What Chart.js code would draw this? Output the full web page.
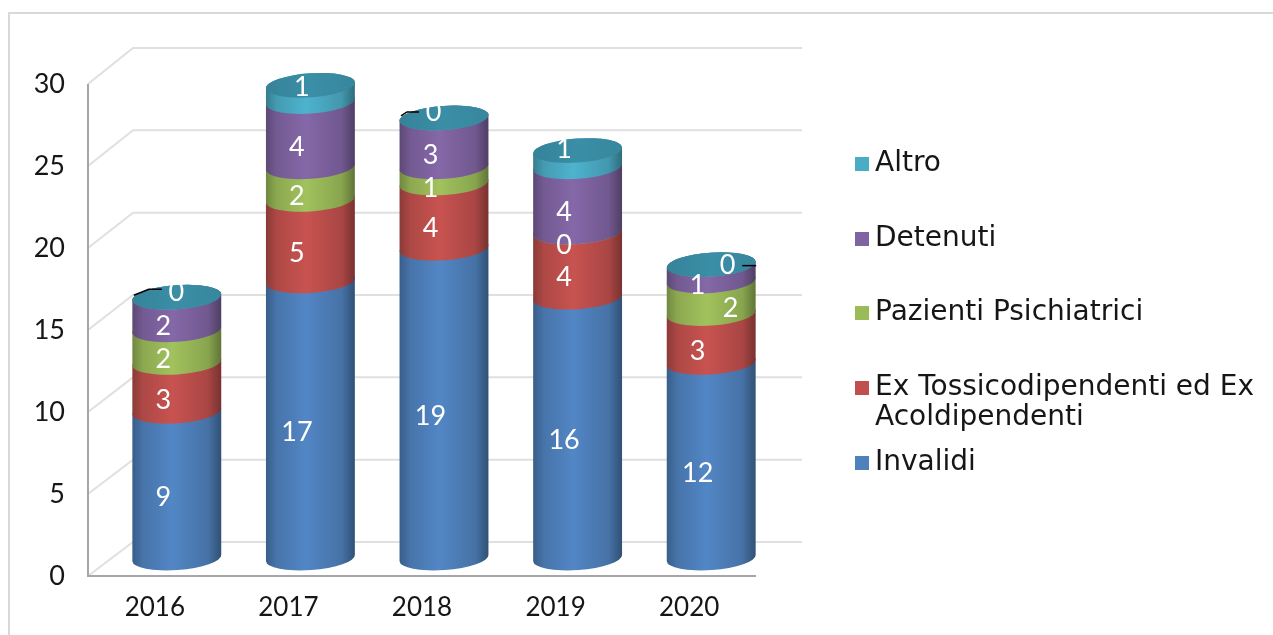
<!DOCTYPE html>
<html>
<head>
<meta charset="utf-8">
<title>Chart</title>
<script src="https://cdn.jsdelivr.net/npm/chart.js@4"></script>
<style>
  html, body { margin: 0; padding: 0; background: #ffffff; }
  canvas { display: block; }
</style>
</head>
<body>
<canvas id="chart" width="1273" height="635"></canvas>
<script>
// Chart data
const years = ["2016", "2017", "2018", "2019", "2020"];
const invalidi = [9, 17, 19, 16, 12];
const exTossico = [3, 5, 4, 4, 3];
const pazienti = [2, 2, 1, 0, 2];
const detenuti = [2, 4, 3, 4, 1];
const altro = [0, 1, 0, 1, 0];
const yTicks = [0, 5, 10, 15, 20, 25, 30];

const FONT = "Lato";
const LEGEND_FONT = "DejaVu Sans";
const TEXT_COLOR = "#161616";
const DEPTH_X = 22; // columns stand halfway into the 3D floor

const colInvalidi = "#4f81bd";
const colEx = "#c0504d";
const colPazienti = "#9bbb59";
const colDetenuti = "#8064a2";
const colAltro = "#4bacc6";
const capColor = "#3a8ea6";

// hand placed labels, [dataset, year, dx, dy] on top of the default position
const labelNudges = [
  [4, 0, 13, -18],
  [4, 1, 5, -19],
  [4, 2, 3, -19],
  [4, 3, 0, -22],
  [4, 4, 30, -12],
  [2, 4, 33, -2],
];

// leader lines of the zero labels, as [year, points relative to the column centre/top]
const leaders = [
  [0, [[-43, -2], [-28, -8], [-15, -8]]],
  [2, [[-43, -2], [-37, -6], [-25, -6]]],
  [4, [[31, 1], [45, 1]]],
];

function shade(hex, f) {
  const n = parseInt(hex.slice(1), 16);
  const c = [n >> 16, (n >> 8) & 255, n & 255].map((v) =>
    Math.min(255, Math.round(v * f))
  );
  return "rgb(" + c.join(",") + ")";
}

// 3D walls, floor and axis lines
const wallsPlugin = {
  id: "walls",
  beforeDatasetsDraw(chart) {
    const ctx = chart.ctx;
    const y = chart.scales.y;
    const area = chart.chartArea;
    ctx.save();
    ctx.lineWidth = 2;
    ctx.strokeStyle = "#e0e0e0";
    ctx.beginPath();
    yTicks.forEach((t) => {
      const py = y.getPixelForValue(t);
      const dy = 34 + (2 * t) / 30;
      ctx.moveTo(area.left, py);
      ctx.lineTo(area.left + 45, py - dy);
      ctx.lineTo(area.right + 46, py - dy);
    });
    ctx.stroke();
    ctx.strokeStyle = "#a6a6a6";
    ctx.beginPath();
    ctx.moveTo(area.left, area.top);
    ctx.lineTo(area.left, area.bottom);
    ctx.lineTo(area.right, area.bottom);
    ctx.stroke();
    ctx.restore();
  },
  // the flat bars stay in the chart, the cylinders below are drawn instead
  beforeDatasetDraw() {
    return false;
  },
};

function sideGradient(ctx, x, r, color) {
  const g = ctx.createLinearGradient(x - r, 0, x + r, 0);
  g.addColorStop(0, shade(color, 0.72));
  g.addColorStop(0.12, shade(color, 0.9));
  g.addColorStop(0.45, shade(color, 1.04));
  g.addColorStop(0.85, shade(color, 0.88));
  g.addColorStop(1, shade(color, 0.62));
  return g;
}

const cylinderPlugin = {
  id: "cylinders",
  afterDatasetsDraw(chart) {
    const ctx = chart.ctx;
    const tilt = -0.07;
    const ry = 12;
    ctx.save();
    years.forEach((year, i) => {
      chart.data.datasets.forEach((ds, d) => {
        const bar = chart.getDatasetMeta(d).data[i];
        const r = bar.width / 2;
        const x = bar.x + DEPTH_X;
        ctx.fillStyle = sideGradient(ctx, x, r, ds.backgroundColor);
        ctx.beginPath();
        ctx.ellipse(x, bar.base, r, ry, tilt, 0, Math.PI);
        ctx.ellipse(x, bar.y, r, ry, tilt, Math.PI, 2 * Math.PI);
        ctx.closePath();
        ctx.fill();
      });
      const last = chart.data.datasets.length - 1;
      const top = chart.getDatasetMeta(last).data[i];
      const g = ctx.createLinearGradient(top.x + DEPTH_X - top.width / 2, 0, top.x + DEPTH_X + top.width / 2, 0);
      g.addColorStop(0, shade(capColor, 0.92));
      g.addColorStop(0.5, capColor);
      g.addColorStop(1, shade(capColor, 0.95));
      ctx.fillStyle = g;
      ctx.beginPath();
      ctx.ellipse(top.x + DEPTH_X, top.y, top.width / 2, ry, tilt, 0, 2 * Math.PI);
      ctx.fill();
    });

    // data labels
    ctx.font = "27px " + FONT;
    ctx.fillStyle = "#ffffff";
    ctx.textAlign = "center";
    ctx.textBaseline = "middle";
    chart.data.datasets.forEach((ds, d) => {
      chart.getDatasetMeta(d).data.forEach((bar, i) => {
        let lx = bar.x + DEPTH_X - 13.5;
        let ly = (bar.y + bar.base) / 2 + 13;
        labelNudges.forEach((n) => {
          if (n[0] === d && n[1] === i) {
            lx += n[2];
            ly += n[3];
          }
        });
        ctx.fillText(String(ds.data[i]), lx, ly);
      });
    });

    // leader lines
    const topMeta = chart.getDatasetMeta(chart.data.datasets.length - 1).data;
    ctx.strokeStyle = "#000000";
    ctx.lineWidth = 1.5;
    leaders.forEach((l) => {
      const bar = topMeta[l[0]];
      ctx.beginPath();
      l[1].forEach((p, k) => {
        const px = bar.x + DEPTH_X + p[0];
        const py = bar.y + p[1];
        if (k === 0) ctx.moveTo(px, py);
        else ctx.lineTo(px, py);
      });
      ctx.stroke();
    });
    ctx.restore();
  },
};

// Legend on the right, top to bottom in reverse stack order
const legendRows = [
  { dataset: 4, lines: ["Altro"], y: 164 },
  { dataset: 3, lines: ["Detenuti"], y: 239 },
  { dataset: 2, lines: ["Pazienti Psichiatrici"], y: 313 },
  { dataset: 1, lines: ["Ex Tossicodipendenti ed Ex", "Acoldipendenti"], y: 388 },
  { dataset: 0, lines: ["Invalidi"], y: 463 },
];

const legendPlugin = {
  id: "sideLegend",
  afterDraw(chart) {
    const ctx = chart.ctx;
    ctx.save();
    ctx.font = "28px " + LEGEND_FONT;
    ctx.textAlign = "left";
    ctx.textBaseline = "middle";
    legendRows.forEach((row) => {
      ctx.fillStyle = chart.data.datasets[row.dataset].backgroundColor;
      ctx.fillRect(855, row.y - 7, 14, 14);
      ctx.fillStyle = TEXT_COLOR;
      row.lines.forEach((line, k) => {
        ctx.fillText(line, 875, row.y + k * 30);
      });
    });
    ctx.restore();
  },
};

// Chart frame: only the top and left edges are inside the picture
const framePlugin = {
  id: "frame",
  beforeDraw(chart) {
    const ctx = chart.ctx;
    ctx.save();
    ctx.fillStyle = "#ffffff";
    ctx.fillRect(0, 0, chart.width, chart.height);
    ctx.strokeStyle = "#d9d9d9";
    ctx.lineWidth = 2;
    ctx.beginPath();
    ctx.moveTo(9, chart.height);
    ctx.lineTo(9, 13);
    ctx.lineTo(chart.width, 13);
    ctx.stroke();
    ctx.restore();
  },
};

function renderChart() {
  new Chart("chart", {
    type: "bar",
    data: {
      labels: years,
      datasets: [
        { label: "Invalidi", data: invalidi, backgroundColor: colInvalidi, yAxisID: "depth" },
        { label: "Ex Tossicodipendenti ed Ex Acoldipendenti", data: exTossico, backgroundColor: colEx, yAxisID: "depth" },
        { label: "Pazienti Psichiatrici", data: pazienti, backgroundColor: colPazienti, yAxisID: "depth" },
        { label: "Detenuti", data: detenuti, backgroundColor: colDetenuti, yAxisID: "depth" },
        { label: "Altro", data: altro, backgroundColor: colAltro, yAxisID: "depth" },
      ],
    },
    options: {
      responsive: false,
      animation: false,
      categoryPercentage: 1,
      barPercentage: 0.667,
      layout: { padding: { top: 84, right: 517, left: 0, bottom: 0 } },
      plugins: { legend: { display: false }, tooltip: { enabled: false } },
      scales: {
        x: {
          stacked: true,
          grid: { display: false },
          border: { display: false },
          afterFit(scale) {
            scale.height = 59;
          },
          ticks: {
            padding: 8,
            color: TEXT_COLOR,
            font: { family: FONT, size: 26 },
            maxRotation: 0,
          },
        },
        y: {
          min: 0,
          max: 30,
          grid: { display: false },
          border: { display: false },
          afterFit(scale) {
            scale.width = 88;
          },
          afterBuildTicks(scale) {
            scale.ticks = yTicks.map((v) => ({ value: v }));
          },
          ticks: {
            padding: 15,
            color: TEXT_COLOR,
            font: { family: FONT, size: 27 },
          },
        },
        // same values further back in the 3D box, this is what the columns stand on
        depth: {
          display: false,
          stacked: true,
          min: -1.1,
          max: 29.08,
        },
      },
    },
    plugins: [framePlugin, wallsPlugin, cylinderPlugin, legendPlugin],
  });
}

renderChart();
</script>
</body>
</html>
